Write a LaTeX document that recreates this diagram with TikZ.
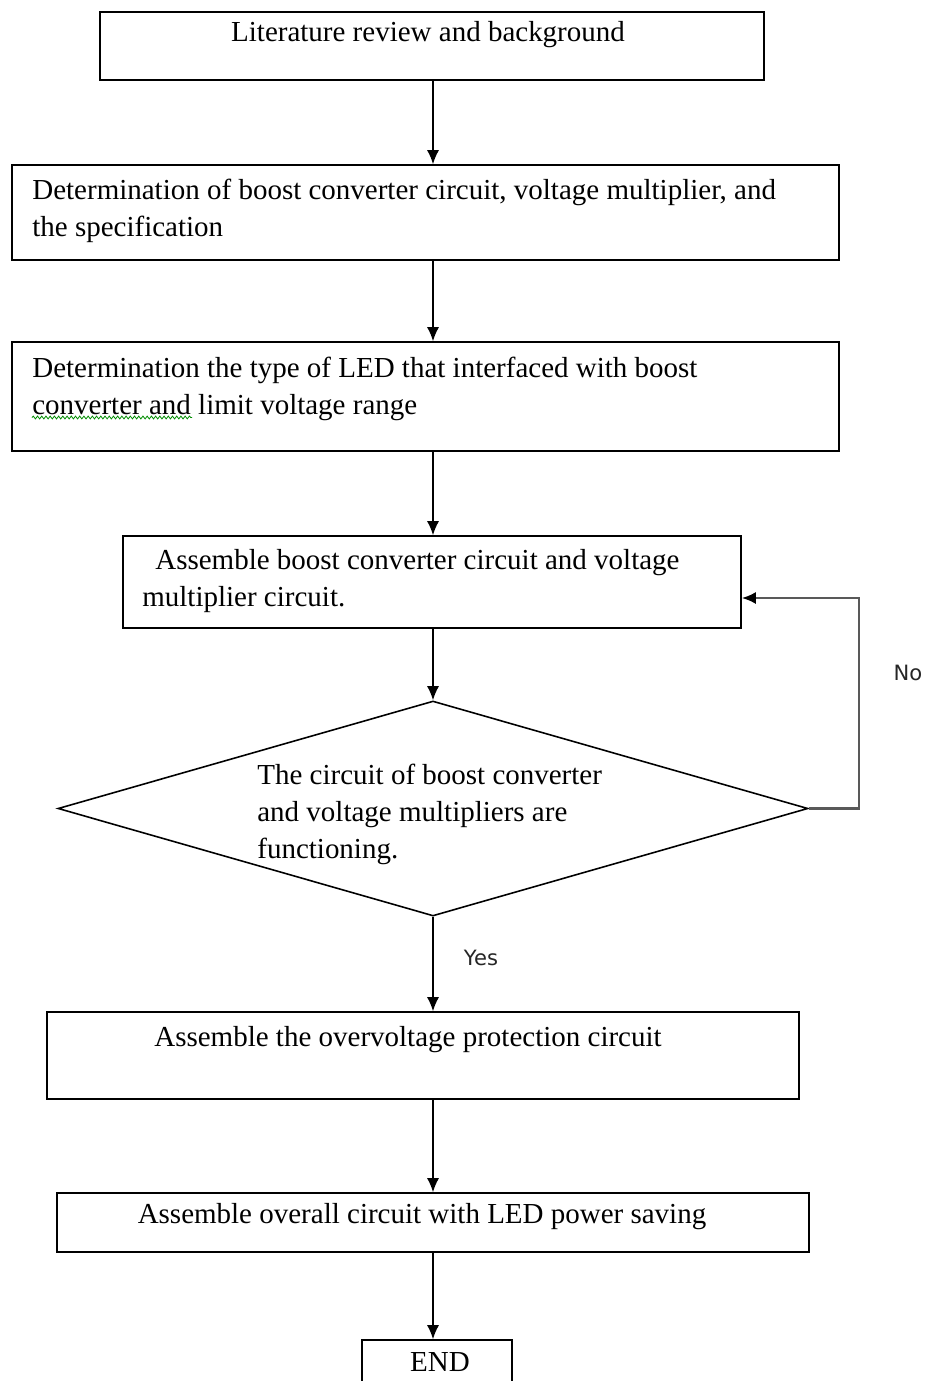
\documentclass[tikz,border=0pt]{standalone}
\usepackage{fontspec}
\setmainfont{Liberation Serif}
\newfontfamily\tagfont{DejaVu Sans}
\usetikzlibrary{shapes.geometric,arrows.meta,decorations.pathmorphing}

\begin{document}
\begin{tikzpicture}[
    stepbox/.style={draw, line width=0.9pt, inner sep=0pt},
    steptext/.style={inner sep=0pt, align=left, font=\fontsize{16.5}{21}\selectfont},
    flow/.style={-{Latex[length=2.8mm,width=2.4mm]}, line width=0.8pt},
    tag/.style={inner sep=0pt, font=\tagfont\fontsize{12}{14}\selectfont, text=black!85}
]
    % Marco
    \useasboundingbox (0,0) rectangle (18.6,-27.62);
    \clip (0,0) rectangle (18.6,-27.62);

    % Cajas
    \node[stepbox, minimum width=13.28cm, minimum height=1.36cm] (lit) at (8.64,-0.92) {};
    \node[stepbox, minimum width=16.54cm, minimum height=1.90cm] (spec) at (8.51,-4.25) {};
    \node[stepbox, minimum width=16.54cm, minimum height=2.18cm] (led) at (8.51,-7.93) {};
    \node[stepbox, minimum width=12.36cm, minimum height=1.84cm] (asm) at (8.64,-11.64) {};
    \node[stepbox, shape=diamond, minimum width=15cm, minimum height=4.3cm] (chk) at (8.66,-16.17) {};
    \node[stepbox, minimum width=15.04cm, minimum height=1.74cm] (ovp) at (8.46,-21.11) {};
    \node[stepbox, minimum width=15.04cm, minimum height=1.18cm] (all) at (8.66,-24.45) {};
    \node[stepbox, minimum width=3cm, minimum height=1.6cm] (fin) at (8.74,-27.60) {};

    % Textos
    \node[steptext] (lit-t) at (8.56,-0.70) {Literature review and background};
    \node[steptext, anchor=north west] (spec-t) at (0.64,-3.58)
        {Determination of boost converter circuit, voltage multiplier, and\\the specification};
    \node[steptext, anchor=north west] (led-t) at (0.64,-7.14)
        {Determination the type of LED that interfaced with boost\\converter and limit voltage range};
    \node[steptext, anchor=north west] (asm-t) at (2.84,-10.98)
        {\hspace*{0.26cm}Assemble boost converter circuit and voltage\\multiplier circuit.};
    \node[steptext, anchor=north west] (chk-t) at (5.14,-15.28)
        {The circuit of boost converter\\and voltage multipliers are\\functioning.};
    \node[steptext] (ovp-t) at (8.16,-20.80) {Assemble the overvoltage protection circuit};
    \node[steptext] (all-t) at (8.44,-24.34) {Assemble overall circuit with LED power saving};
    \node[steptext] (fin-t) at (8.80,-27.24) {END};

    % Subrayado
    \draw[green!55!black, line width=0.45pt, decorate,
        decoration={snake, amplitude=0.8pt, segment length=2.4pt}] (0.64,-8.35) -- (3.84,-8.35);

    % Flechas
    \coordinate (spine) at (8.66,0);
    \draw[flow] (lit.south -| spine) -- (spec.north -| spine);
    \draw[flow] (spec.south -| spine) -- (led.north -| spine);
    \draw[flow] (led.south -| spine) -- (asm.north -| spine);
    \draw[flow] (asm.south -| spine) -- (chk.north);
    \draw[flow] (chk.south) -- (ovp.north -| spine);
    \draw[flow] (ovp.south -| spine) -- (all.north -| spine);
    \draw[flow] (all.south -| spine) -- (fin.north -| spine);

    % Lazo de vuelta
    \coordinate (noturn) at (17.18,-11.96);
    \draw[flow, draw=black!65, line width=1.3pt, -{Latex[length=2.8mm,width=2.4mm,color=black]}]
        (chk.east) -| (noturn) -- (asm.east |- noturn);

    % Etiquetas
    \node[tag] (yes) at (9.62,-19.16) {Yes};
    \node[tag] (no) at (18.16,-13.46) {No};
\end{tikzpicture}
\end{document}
